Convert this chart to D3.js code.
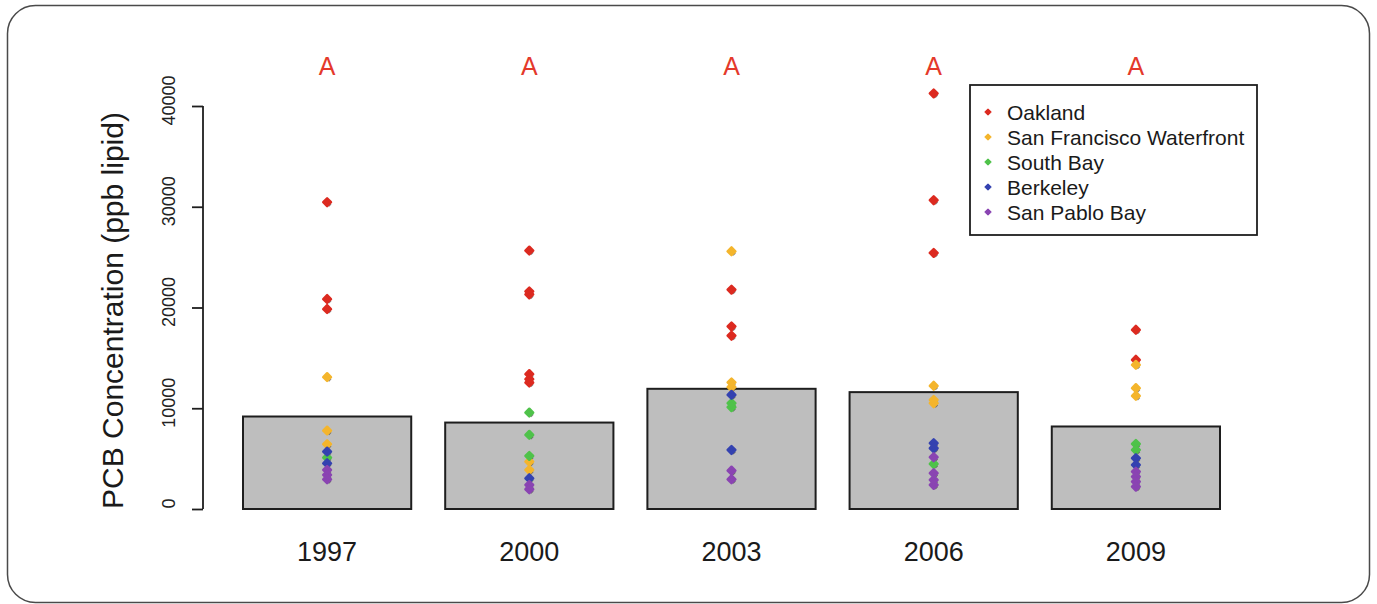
<!DOCTYPE html>
<html>
<head>
<meta charset="utf-8">
<script src="https://cdn.jsdelivr.net/npm/d3@7"></script>
<style>
  html, body { margin: 0; padding: 0; background: #ffffff; }
  svg { display: block; font-family: "Liberation Sans", Arial, Helvetica, sans-serif; }
</style>
</head>
<body>
<svg id="chart" width="1377" height="604"></svg>
<script>
// ---------------- data ----------------
const years = ["1997", "2000", "2003", "2006", "2009"];
const barValues = [9180, 8580, 11930, 11600, 8190];
const groupLabels = ["A", "A", "A", "A", "A"];
const yTicks = [0, 10000, 20000, 30000, 40000];
const siteNames = ["Oakland", "San Francisco Waterfront", "South Bay", "Berkeley", "San Pablo Bay"];
const siteColors = ["#dc2a20", "#f4b52c", "#4fc24a", "#3442b0", "#8a44b2"];

// per-site values, one list per year (same order as years)
const oakland = [
  [30450, 20840, 19850],
  [25650, 21600, 21300, 13390, 12890, 12550],
  [21770, 18120, 17200],
  [41250, 30650, 25420],
  [17790, 14810]
];
const sanFrancisco = [
  [13090, 7780, 6430],
  [4700, 3880],
  [25580, 12560, 12100],
  [12230, 10830, 10500],
  [14310, 12000, 11230]
];
const southBay = [
  [5100],
  [9570, 7360, 5270],
  [10500, 10110],
  [4470],
  [6460, 5860]
];
const berkeley = [
  [5700, 4540],
  [3050],
  [11330, 5860],
  [6530, 6030],
  [5040, 4370]
];
const sanPablo = [
  [3880, 3380, 2950],
  [2390, 1960],
  [3810, 2950],
  [5140, 3550, 2880, 2390],
  [3710, 3210, 2710, 2220]
];
const siteSeries = [oakland, sanFrancisco, southBay, berkeley, sanPablo];

// ---------------- layout ----------------
const svg = d3.select("#chart");

// outer rounded frame
svg.append("rect")
  .attr("x", 7.5).attr("y", 5.5)
  .attr("width", 1362).attr("height", 597)
  .attr("rx", 28).attr("ry", 28)
  .attr("fill", "#ffffff")
  .attr("stroke", "#4a4a4a").attr("stroke-width", 1.5);

const x = d3.scaleBand()
  .domain(years)
  .range([243, 1220])
  .paddingInner(0.168)
  .paddingOuter(0);

const y = d3.scaleLinear()
  .domain([0, 40000])
  .range([509, 106]);

// bars
svg.append("g").selectAll("rect")
  .data(years.map((yr, i) => ({ yr, v: barValues[i] })))
  .join("rect")
  .attr("x", d => x(d.yr))
  .attr("y", d => y(d.v))
  .attr("width", x.bandwidth())
  .attr("height", d => y(0) - y(d.v))
  .attr("fill", "#bebebe")
  .attr("stroke", "#1e1e1e")
  .attr("stroke-width", 2);

// y axis
const yAxis = d3.axisLeft(y).tickValues(yTicks).tickSize(11).tickFormat(d3.format("d"));
const gy = svg.append("g").attr("transform", "translate(203,0)").call(yAxis);
gy.select(".domain").attr("stroke", "#1e1e1e").attr("stroke-width", 1.8)
  .attr("d", `M0,${y(0)}V${y(40000)}`);
gy.selectAll(".tick line").attr("stroke", "#1e1e1e").attr("stroke-width", 1.8);
gy.selectAll(".tick text")
  .attr("x", null).attr("dy", null)
  .attr("transform", "translate(-34,-6) rotate(-90)")
  .attr("text-anchor", "middle")
  .attr("dominant-baseline", "central")
  .attr("font-size", 18)
  .attr("font-family", "'Liberation Sans', Arial, sans-serif")
  .attr("fill", "#222");

// y title
svg.append("text")
  .attr("transform", `translate(112,${(y(0) + y(40000)) / 2 + 3}) rotate(-90)`)
  .attr("text-anchor", "middle")
  .attr("dominant-baseline", "central")
  .attr("font-size", 30)
  .attr("fill", "#1a1a1a")
  .text("PCB Concentration (ppb lipid)");

// x labels
svg.append("g").selectAll("text")
  .data(years)
  .join("text")
  .attr("x", d => x(d) + x.bandwidth() / 2)
  .attr("y", 561)
  .attr("text-anchor", "middle")
  .attr("font-size", 27)
  .attr("fill", "#1a1a1a")
  .text(d => d);

// group letters
svg.append("g").selectAll("text")
  .data(years.map((yr, i) => ({ yr, t: groupLabels[i] })))
  .join("text")
  .attr("x", d => x(d.yr) + x.bandwidth() / 2)
  .attr("y", 75)
  .attr("text-anchor", "middle")
  .attr("font-size", 25)
  .attr("fill", "#e4392b")
  .text(d => d.t);

// points
const points = [];
siteSeries.forEach((series, s) => {
  series.forEach((vals, i) => {
    vals.forEach(v => points.push({ yr: years[i], v, s }));
  });
});
const marker = d3.symbol().type(d3.symbolDiamond2).size(38);
const gp = svg.append("g");
gp.selectAll("path.shadow")
  .data(points)
  .join("path")
  .attr("class", "shadow")
  .attr("d", d3.symbol().type(d3.symbolDiamond2).size(14))
  .attr("transform", d => `translate(${x(d.yr) + x.bandwidth() / 2 + 2},${y(d.v) + 2.2})`)
  .attr("fill", "#333")
  .attr("opacity", 0.6);
gp.selectAll("path.pt")
  .data(points)
  .join("path")
  .attr("class", "pt")
  .attr("d", marker)
  .attr("transform", d => `translate(${x(d.yr) + x.bandwidth() / 2},${y(d.v)})`)
  .attr("fill", d => siteColors[d.s])
  .attr("stroke", d => siteColors[d.s])
  .attr("stroke-width", 2.5)
  .attr("stroke-linejoin", "round");

// legend
const lg = svg.append("g");
lg.append("rect")
  .attr("x", 970).attr("y", 85)
  .attr("width", 287).attr("height", 150)
  .attr("fill", "#ffffff")
  .attr("stroke", "#1e1e1e").attr("stroke-width", 1.8);
const items = lg.selectAll("g.item")
  .data(siteNames.map((n, i) => ({ n, c: siteColors[i], i })))
  .join("g")
  .attr("class", "item")
  .attr("transform", d => `translate(0,${112 + d.i * 25})`);
items.append("path")
  .attr("d", d3.symbol().type(d3.symbolDiamond2).size(22))
  .attr("transform", "translate(988,0)")
  .attr("fill", d => d.c)
  .attr("stroke", d => d.c)
  .attr("stroke-width", 1.2)
  .attr("stroke-linejoin", "round");
items.append("text")
  .attr("x", 1007)
  .attr("y", 0)
  .attr("dominant-baseline", "central")
  .attr("font-size", 21)
  .attr("fill", "#1a1a1a")
  .text(d => d.n);
</script>
</body>
</html>
